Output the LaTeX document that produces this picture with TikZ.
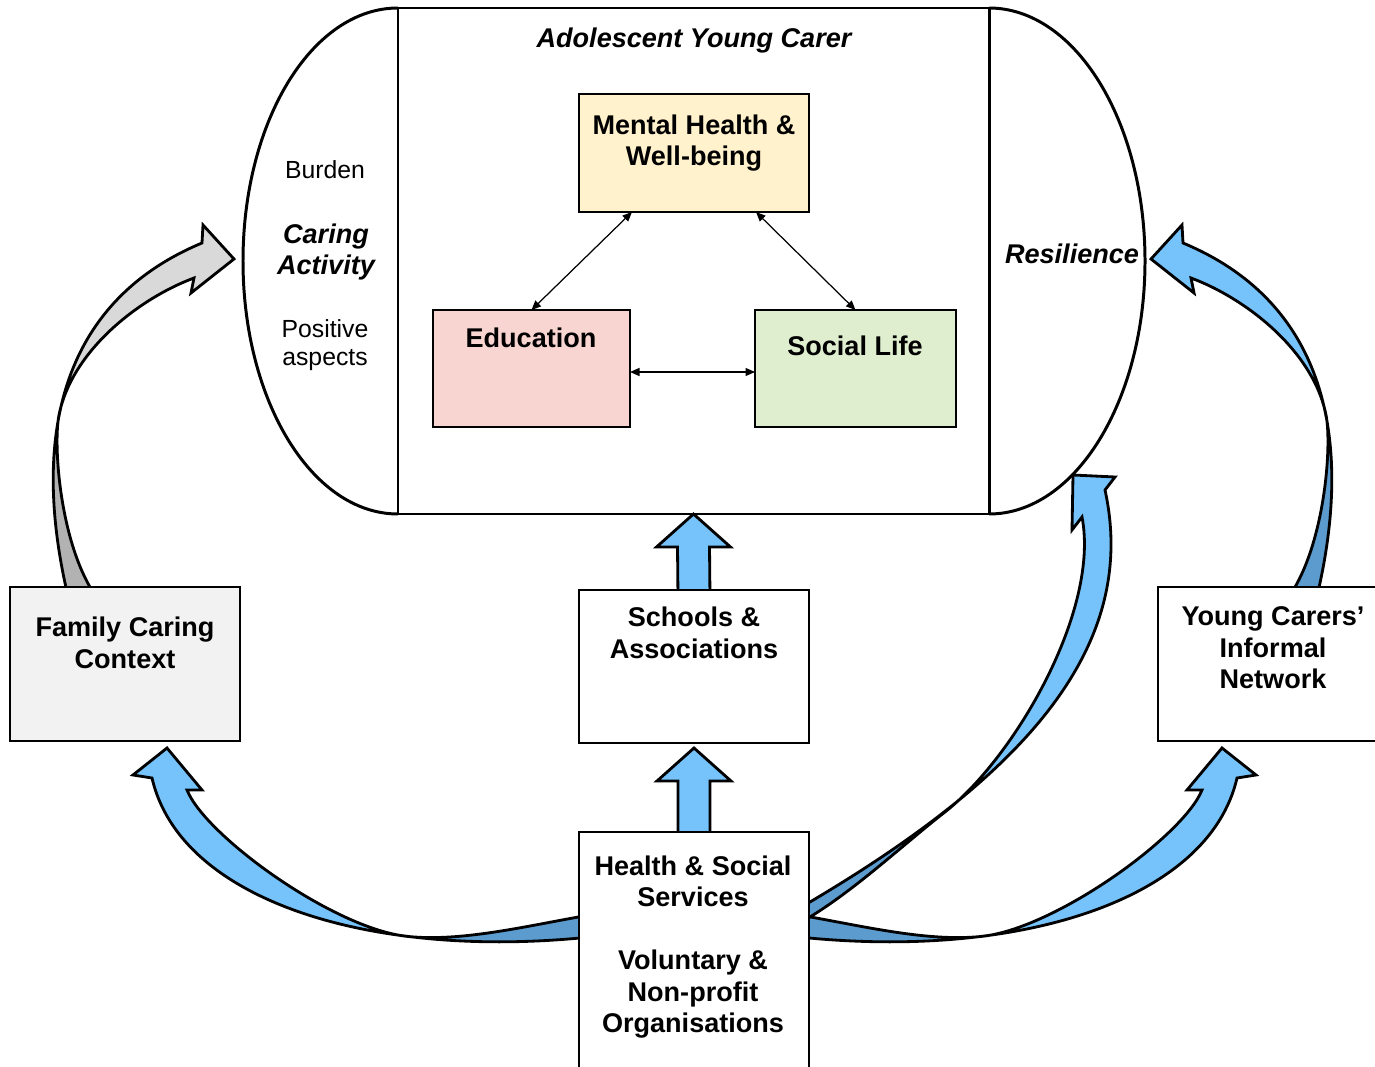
\documentclass[tikz,border=0pt]{standalone}
\usepackage{fontspec}
\setmainfont{Liberation Sans}
\usetikzlibrary{positioning,calc,fit,backgrounds,arrows.meta}
\definecolor{ArrowBlue}{RGB}{117,195,250}
\definecolor{ArrowDark}{RGB}{91,155,206}
\definecolor{ArrowGrey}{RGB}{217,217,217}
\definecolor{ArrowGreyDark}{RGB}{178,178,178}
\definecolor{MHYellow}{RGB}{255,242,204}
\definecolor{EduPink}{RGB}{248,213,209}
\definecolor{SocGreen}{RGB}{224,238,208}
\definecolor{FamGrey}{RGB}{242,242,242}

\newcommand{\sidearrow}{(67,592) .. controls (30,430) and (65,300) .. (202,243) -- (203,225) -- (234,259) -- (191,293) -- (194,278) .. controls (140,298) and (72,350) .. (59,415) .. controls (53,445) and (60,540) .. (93,592) -- cycle}
\newcommand{\lowarrow}{(590,937) .. controls (370,960) and (180,900) .. (152,778) -- (133,775) -- (167,748) -- (202,790) -- (187,790) .. controls (205,835) and (330,926) .. (404,936) .. controls (460,943) and (530,925) .. (590,915) -- cycle}
\newcommand{\resarrow}{(798,909) .. controls (1020,780) and (1140,650) .. (1105,490) -- (1115,477) -- (1073,475) -- (1072,530) -- (1082,517) .. controls (1100,610) and (1015,757) .. (945,812) .. controls (900,847) and (850,895) .. (798,924) -- cycle}
\newcommand{\blockup}[2]{\filldraw[blk] ($(#1)+(-16,8)$) -- ($(#2)+(-16,33)$) -- ($(#2)+(-37,33)$) -- (#2) -- ($(#2)+(37,33)$) -- ($(#2)+(16,33)$) -- ($(#1)+(16,8)$) -- cycle;}

\begin{document}
\begin{tikzpicture}[x=0.02cm,y=-0.02cm]
	\tikzset{
		box/.style={draw=black, line width=0.8pt, inner sep=0pt, outer sep=0pt},
		frame/.style={draw=black, line width=1.7pt, inner sep=0pt, outer sep=0pt},
		bt/.style={font=\fontsize{15.4}{17.9}\selectfont\bfseries, align=center, inner sep=0pt},
		bit/.style={font=\fontsize{15.4}{17.9}\selectfont\bfseries\itshape, align=center, inner sep=0pt},
		rt/.style={font=\fontsize{14.1}{15.9}\selectfont, align=center, inner sep=0pt},
		link/.style={draw=black, line width=0.7pt, {Triangle[length=1.9mm,width=1.6mm]}-{Triangle[length=1.9mm,width=1.6mm]}},
		blk/.style={draw=black, line width=1.6pt, fill=ArrowBlue, line join=miter},
		crv/.style={draw=black, line width=1.6pt, line join=miter}
	}
	\useasboundingbox (0,0) rectangle (1375,1067);
	
	\node[frame, fit={(398,8) (989,514)}] (ayc) {};
	\draw[frame] (ayc.north west) .. controls +(-86,0) and +(0,-140) .. (243,261) .. controls +(0,140) and +(-86,0) .. (ayc.south west);
	\draw[frame] (ayc.north east) .. controls +(86,0) and +(0,-140) .. (1145,261) .. controls +(0,140) and +(86,0) .. (ayc.south east);
	\node[bit] (title) at (694,41) {Adolescent Young Carer};
	
	\node[box, fill=MHYellow, fit={(579,94) (809,212)}] (mh) {};
	\node[bt] (mhT) at (694,143) {Mental Health \&\\Well-being};
	\node[box, fill=EduPink, fit={(433,310) (630,427)}] (edu) {};
	\node[bt] (eduT) at (531,338) {Education};
	\node[box, fill=SocGreen, fit={(755,310) (956,427)}] (soc) {};
	\node[bt] (socT) at (855,346) {Social Life};
	\draw[link] ([xshift=-1.24cm]mh.south) -- (edu.north);
	\draw[link] ([xshift=1.24cm]mh.south) -- (soc.north);
	\draw[link] ([yshift=-0.07cm]edu.east) -- ([yshift=-0.07cm]soc.west);
	
	\node[rt] (burden) at (325,170) {Burden};
	\node[bit] (caring) at (326,252) {Caring\\Activity};
	\node[rt] (pos) at (325,345) {Positive\\aspects};
	\node[bit] (res) at (1072,254) {Resilience};
	
	\node[box, fill=FamGrey, fit={(10,587) (240,741)}] (fam) {};
	\node[bt] (famT) at (125,643) {Family Caring\\Context};
	\node[box, fill=white, fit={(579,590) (809,743)}] (sch) {};
	\node[bt] (schT) at (694,633) {Schools \&\\Associations};
	\node[box, fill=white, fit={(1158,587) (1390,741)}] (yc) {};
	\node[bt] (ycT) at (1273,648) {Young Carers’\\Informal\\Network};
	\node[box, fill=white, fit={(579,832) (809,1080)}] (hss) {};
	\node[bt] (hssT) at (693,947) {Health \& Social\\Services\\[0.63cm]Voluntary \&\\Non-profit\\Organisations};
	
	\begin{scope}[on background layer]
		\fill[ArrowGreyDark] \sidearrow;
		\begin{scope}
			\clip (0,0) rectangle (300,415);
			\fill[ArrowGrey] \sidearrow;
		\end{scope}
		\draw[crv] \sidearrow;
		
		\begin{scope}[shift={(1385,0)}, xscale=-1]
			\fill[ArrowDark] \sidearrow;
			\begin{scope}
				\clip (0,0) rectangle (300,415);
				\fill[ArrowBlue] \sidearrow;
			\end{scope}
			\draw[crv] \sidearrow;
		\end{scope}
		
		\fill[ArrowDark] \lowarrow;
		\begin{scope}
			\clip (0,700) rectangle (404,1067);
			\fill[ArrowBlue] \lowarrow;
		\end{scope}
		\draw[crv] \lowarrow;
		
		\begin{scope}[shift={(1389,0)}, xscale=-1]
			\fill[ArrowDark] \lowarrow;
			\begin{scope}
				\clip (0,700) rectangle (404,1067);
				\fill[ArrowBlue] \lowarrow;
			\end{scope}
			\draw[crv] \lowarrow;
		\end{scope}
		
		\fill[ArrowDark] \resarrow;
		\begin{scope}
			\clip (945,400) rectangle (1200,1000);
			\fill[ArrowBlue] \resarrow;
		\end{scope}
		\draw[crv] \resarrow;
		
		\blockup{sch.north}{ayc.south}
		\coordinate (schtip) at ($(sch.south)+(0,5)$);
		\blockup{hss.north}{schtip}
	\end{scope}
\end{tikzpicture}
\end{document}
